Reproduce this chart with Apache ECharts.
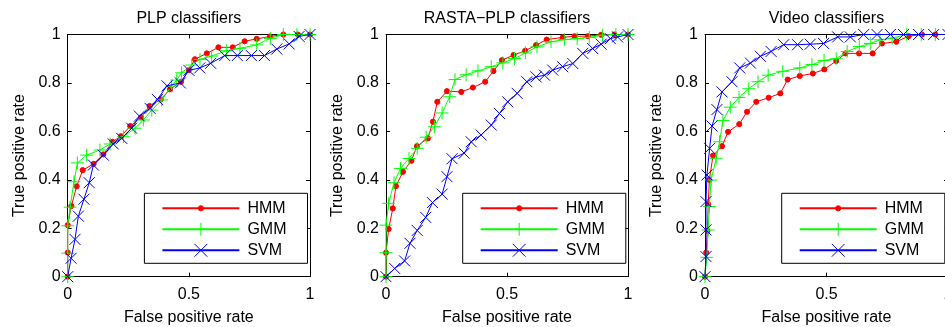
<!DOCTYPE html>
<html><head><meta charset="utf-8">
<script src="https://cdn.jsdelivr.net/npm/echarts@6/dist/echarts.min.js"></script>
<style>html,body{margin:0;padding:0;background:#fff}#c{width:945px;height:327px}</style>
</head><body><div id="c"></div>
<script>
// ---------- data ----------
const panelTitles = ['PLP classifiers', 'RASTA\u2212PLP classifiers', 'Video classifiers'];
const seriesNames = ['HMM', 'GMM', 'SVM'];
const xTickLabels = ['0', '0.5', '1'];
const yTickLabels = ['0', '0.2', '0.4', '0.6', '0.8', '1'];
const xAxisTitle = 'False positive rate';
const yAxisTitle = 'True positive rate';

// PLP
const plpHmmX = [0,0,0,0.015,0.037,0.062,0.107,0.147,0.185,0.22,0.258,0.303,0.338,0.384,0.422,0.468,0.5,0.525,0.574,0.622,0.681,0.73,0.78,0.835,0.89,0.95,1];
const plpHmmY = [0,0.1,0.213,0.292,0.373,0.44,0.466,0.505,0.557,0.58,0.622,0.658,0.705,0.732,0.774,0.805,0.853,0.898,0.922,0.947,0.947,0.972,0.982,0.992,1,1,1];
const plpGmmX = [0,0,0,0.01,0.026,0.04,0.078,0.133,0.175,0.23,0.278,0.312,0.347,0.388,0.429,0.45,0.47,0.512,0.546,0.594,0.656,0.711,0.78,0.836,0.89,0.946,1];
const plpGmmY = [0,0.097,0.21,0.287,0.392,0.47,0.502,0.523,0.548,0.578,0.613,0.647,0.688,0.73,0.787,0.812,0.842,0.874,0.897,0.911,0.933,0.943,0.957,0.984,1,1,1];
const plpSvmX = [0,0.014,0.03,0.044,0.067,0.089,0.106,0.147,0.188,0.223,0.264,0.296,0.34,0.37,0.41,0.465,0.5,0.545,0.59,0.648,0.70,0.758,0.812,0.863,0.914,0.955,1];
const plpSvmY = [0,0.076,0.154,0.25,0.32,0.388,0.461,0.502,0.548,0.571,0.613,0.663,0.695,0.732,0.788,0.80,0.852,0.862,0.881,0.913,0.913,0.913,0.913,0.94,0.961,0.992,1];

// RASTA-PLP
const rastaHmmX = [0,0,0.011,0.028,0.041,0.07,0.105,0.128,0.173,0.194,0.212,0.252,0.311,0.359,0.41,0.444,0.479,0.527,0.575,0.62,0.664,0.73,0.779,0.834,0.889,0.944,1];
const rastaHmmY = [0,0.099,0.197,0.282,0.374,0.433,0.479,0.539,0.571,0.64,0.722,0.766,0.763,0.781,0.805,0.849,0.894,0.915,0.933,0.956,0.979,0.988,0.993,0.993,0.999,1,1];
const rastaGmmX = [0,0,0,0.011,0.033,0.06,0.095,0.129,0.166,0.2,0.232,0.263,0.285,0.331,0.38,0.435,0.483,0.531,0.576,0.624,0.682,0.737,0.79,0.84,0.895,0.95,1];
const rastaGmmY = [0,0.099,0.213,0.303,0.388,0.447,0.488,0.53,0.576,0.619,0.676,0.743,0.814,0.834,0.85,0.867,0.883,0.901,0.924,0.949,0.97,0.979,0.983,0.988,0.997,1,1];
const rastaSvmX = [0,0.036,0.077,0.099,0.129,0.164,0.192,0.232,0.252,0.273,0.323,0.352,0.393,0.435,0.469,0.503,0.542,0.582,0.62,0.655,0.689,0.73,0.772,0.813,0.854,0.889,0.927,0.957,1];
const rastaSvmY = [0,0.034,0.065,0.138,0.191,0.245,0.306,0.341,0.413,0.487,0.51,0.557,0.585,0.626,0.674,0.722,0.757,0.805,0.825,0.832,0.853,0.867,0.88,0.922,0.942,0.96,0.983,0.99,1];

// Video
const videoHmmX = [0,0.005,0.01,0.013,0.018,0.033,0.07,0.095,0.141,0.173,0.211,0.262,0.31,0.34,0.39,0.444,0.491,0.54,0.578,0.634,0.69,0.728,0.787,0.838,0.893,0.948,1];
const videoHmmY = [0,0.1,0.19,0.3,0.4,0.5,0.539,0.598,0.63,0.681,0.722,0.739,0.757,0.814,0.829,0.839,0.856,0.891,0.922,0.922,0.922,0.963,0.97,0.993,1,1,1];
const videoGmmX = [0,0.007,0.013,0.018,0.025,0.046,0.06,0.074,0.104,0.14,0.18,0.218,0.26,0.32,0.39,0.44,0.49,0.54,0.585,0.635,0.68,0.72,0.77,0.83,0.89,0.948,1];
const videoGmmY = [0,0.08,0.193,0.29,0.399,0.489,0.557,0.645,0.70,0.74,0.776,0.805,0.832,0.848,0.862,0.876,0.893,0.9,0.93,0.95,0.963,0.978,0.985,1,1,1,1];
const videoSvmX = [0,0.004,0.004,0.004,0.008,0.019,0.029,0.049,0.07,0.111,0.143,0.187,0.228,0.272,0.324,0.381,0.433,0.488,0.546,0.598,0.653,0.708,0.763,0.817,0.879,0.941,1];
const videoSvmY = [0,0.083,0.193,0.31,0.42,0.53,0.622,0.69,0.763,0.805,0.862,0.882,0.91,0.93,0.958,0.958,0.96,0.963,0.99,0.99,1,1,1,1,1,1,1];

const panelData = [
  [[plpHmmX, plpHmmY], [plpGmmX, plpGmmY], [plpSvmX, plpSvmY]],
  [[rastaHmmX, rastaHmmY], [rastaGmmX, rastaGmmY], [rastaSvmX, rastaSvmY]],
  [[videoHmmX, videoHmmY], [videoGmmX, videoGmmY], [videoSvmX, videoSvmY]]
];

// ---------- styling / layout ----------
const FONT = '"Liberation Sans", Arial, Helvetica, sans-serif';
const FS = 16;
const colors = ['#ff0000', '#00ff00', '#0000ff'];
const symbols = [
  'path://M0,0L0,0M10,10L10,10M7,5A2,2,0,1,1,3,5A2,2,0,1,1,7,5Z',
  'path://M5,0L5,10M0,5L10,5',
  'path://M0,0L10,10M0,10L10,0'
];
const symbolSizes = [12.8, 12.8, 11];
const grids = [
  {left: 67.7, top: 34.5, width: 242.3, height: 242.2},
  {left: 386, top: 34.5, width: 242, height: 242.2},
  {left: 705, top: 34.5, width: 243, height: 242.2}
];

const txt = {color: '#000', fontSize: FS, fontFamily: FONT, fontWeight: 'normal'};

const option = {
  animation: false,
  backgroundColor: '#fff',
  title: [], grid: [], xAxis: [], yAxis: [], legend: [], series: []
};

grids.forEach((g, i) => {
  option.grid.push({left: g.left, top: g.top, width: g.width, height: g.height,
    containLabel: false, outerBoundsMode: 'none'});
  option.title.push({
    text: panelTitles[i], left: g.left + g.width / 2, top: 11, textAlign: 'center', padding: 0,
    textStyle: Object.assign({}, txt)
  });
  const axisLine = {show: true, onZero: false, lineStyle: {color: '#000', width: 1}};
  const axisTick = {show: true, inside: true, length: 4, lineStyle: {color: '#000', width: 1}};
  ['bottom', 'top'].forEach((pos, k) => {
    option.xAxis.push({
      type: 'value', gridIndex: i, position: pos, min: 0, max: 1, interval: 0.5,
      axisLine, axisTick, splitLine: {show: false},
      axisLabel: Object.assign({show: k === 0, margin: 10, hideOverlap: false,
        formatter: v => xTickLabels[Math.round(v / 0.5)]}, txt),
      name: k === 0 ? xAxisTitle : '', nameLocation: 'middle', nameGap: 33,
      nameMoveOverlap: false,
      nameTextStyle: Object.assign({}, txt)
    });
  });
  ['left', 'right'].forEach((pos, k) => {
    option.yAxis.push({
      type: 'value', gridIndex: i, position: pos, min: 0, max: 1, interval: 0.2,
      axisLine, axisTick, splitLine: {show: false},
      axisLabel: Object.assign({show: k === 0, margin: 7, hideOverlap: false,
        formatter: v => yTickLabels[Math.round(v / 0.2)]}, txt),
      name: k === 0 ? yAxisTitle : '', nameLocation: 'middle', nameGap: 40,
      nameMoveOverlap: false,
      nameTextStyle: Object.assign({}, txt)
    });
  });
  option.legend.push({
    orient: 'vertical', left: g.left + 76.7, top: 193.3,
    padding: [7, 21, 5, 17], itemWidth: 77, itemHeight: 16, itemGap: 5,
    borderColor: '#000', borderWidth: 1, backgroundColor: '#fff', borderRadius: 0,
    selectedMode: false, itemStyle: {borderWidth: 1},
    textStyle: Object.assign({padding: [0, 0, 0, 3], lineHeight: 16}, txt),
    data: seriesNames.slice()
  });
  seriesNames.forEach((name, s) => {
    const [xs, ys] = panelData[i][s];
    option.series.push({
      type: 'line', name, xAxisIndex: 2 * i, yAxisIndex: 2 * i,
      data: xs.map((x, j) => [x, ys[j]]),
      symbol: symbols[s], symbolSize: symbolSizes[s], showAllSymbol: true,
      lineStyle: {color: colors[s], width: 1},
      itemStyle: {color: colors[s], borderColor: colors[s], borderWidth: 1},
      emphasis: {disabled: true}, silent: true, clip: false, z: 2 + s
    });
  });
});

const chart = echarts.init(document.getElementById('c'), null, {renderer: 'canvas'});
chart.setOption(option);
</script>
</body></html>
